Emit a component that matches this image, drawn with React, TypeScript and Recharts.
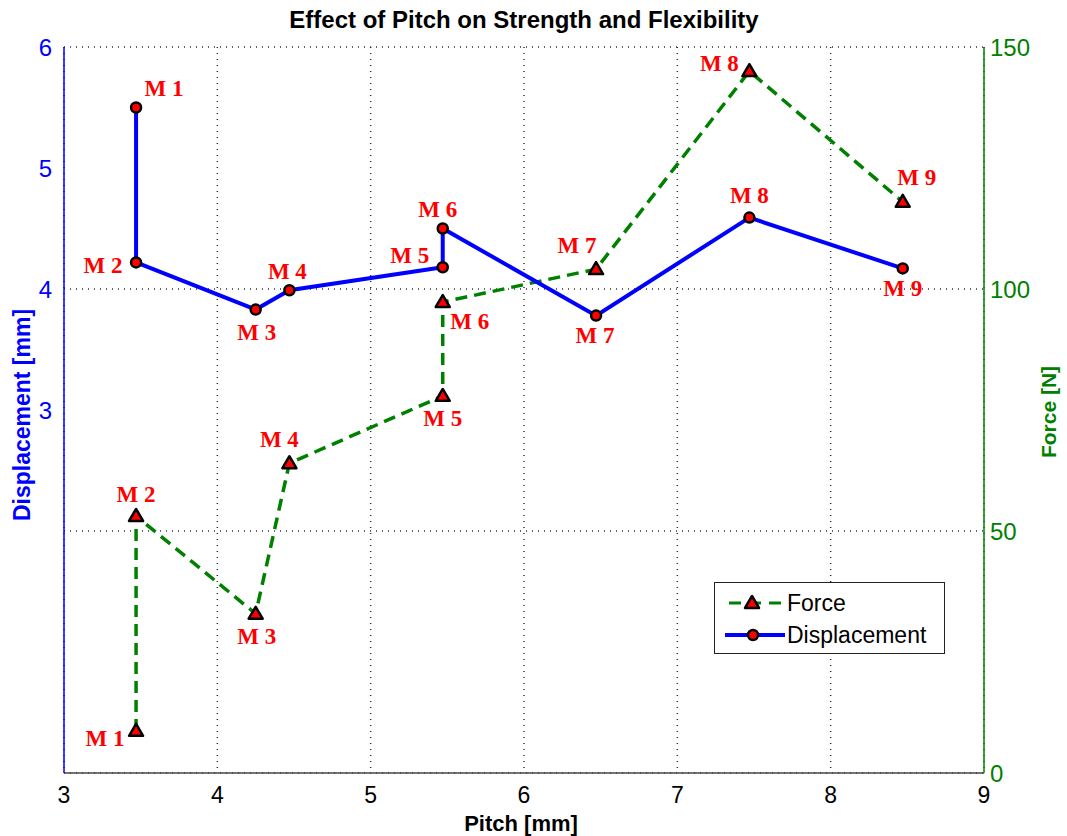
import React from "react";
import {
  ComposedChart,
  Line,
  XAxis,
  YAxis,
  CartesianGrid,
  LabelList,
} from "recharts";

const pointNames = ["M 1", "M 2", "M 3", "M 4", "M 5", "M 6", "M 7", "M 8", "M 9"];
const pitch = [3.47, 3.47, 4.25, 4.47, 5.47, 5.47, 6.47, 7.47, 8.47];
const displacement = [5.5, 4.22, 3.83, 3.99, 4.18, 4.5, 3.78, 4.59, 4.17];
const force = [8.7, 53.1, 32.9, 64.0, 77.9, 97.3, 104.1, 145.0, 118.0];

const pitchTicks = [3, 4, 5, 6, 7, 8, 9];
const displacementTicks = [3, 4, 5, 6];
const forceTicks = [0, 50, 100, 150];

// label nudges (px) so the tags sit where they do in the figure
const dispLabelShift = [
  [28, -19], [-33, 3], [1, 23], [-2, -19], [-33, -12],
  [-5, -19], [-1, 20], [0, -22], [0, 20],
];
const forceLabelShift = [
  [-31, 8], [0, -21], [1, 23], [-10, -24], [0, 23],
  [27, 19], [-19, -24], [-30, -8], [14, -24],
];

const BLUE = "#0000ff";
const GREEN = "#008000";
const RED = "#ff0000";

const data = pitch.map((p, i) => ({
  name: pointNames[i],
  pitch: p,
  displacement: displacement[i],
  force: force[i],
}));

const tagLabel = (shift: number[][]) => (props: any) => {
  const { x, y, index, value } = props;
  const [dx, dy] = shift[index] || [0, 0];
  return (
    <text
      x={x + dx}
      y={y + dy}
      textAnchor="middle"
      dominantBaseline="central"
      fill={RED}
      fontFamily="'Liberation Serif', serif"
      fontWeight="bold"
      fontSize={23}
    >
      {value}
    </text>
  );
};

const CircleDot = (props: any) => {
  const { cx, cy } = props;
  if (cx == null || cy == null) return null;
  return <circle cx={cx} cy={cy} r={5} fill={RED} stroke="#000" strokeWidth={2.5} />;
};

const TriangleDot = (props: any) => {
  const { cx, cy } = props;
  if (cx == null || cy == null) return null;
  const s = 7;
  return (
    <polygon
      points={`${cx},${cy - s} ${cx - s},${cy + s * 0.7} ${cx + s},${cy + s * 0.7}`}
      fill={RED}
      stroke="#000"
      strokeWidth={2.5}
      strokeLinejoin="round"
    />
  );
};

const font = "'Liberation Sans', Arial, sans-serif";

const LegendBox = () => (
  <div
    style={{
      position: "absolute",
      left: 714,
      top: 582,
      width: 231,
      height: 72,
      border: "1px solid #222",
      background: "#fff",
      fontFamily: font,
      fontSize: 23,
      color: "#000",
      boxSizing: "border-box",
    }}
  >
    <div style={{ display: "flex", alignItems: "center", height: 34, marginTop: 3 }}>
      <svg width={72} height={20}>
        <line x1={14} y1={10} x2={70} y2={10} stroke={GREEN} strokeWidth={3} strokeDasharray="12 8" />
        <TriangleDot cx={37} cy={10} />
      </svg>
      <span>Force</span>
    </div>
    <div style={{ display: "flex", alignItems: "center", height: 30 }}>
      <svg width={72} height={20}>
        <line x1={10} y1={10} x2={70} y2={10} stroke={BLUE} strokeWidth={4} />
        <CircleDot cx={38} cy={10} />
      </svg>
      <span>Displacement</span>
    </div>
  </div>
);

export default function App() {
  return (
    <div style={{ position: "absolute", left: 0, top: 0, width: 1067, height: 836, background: "#fff" }}>
      <div
        style={{
          position: "absolute",
          left: 0,
          width: 1048,
          top: 8,
          lineHeight: 1,
          textAlign: "center",
          fontFamily: font,
          fontWeight: "bold",
          fontSize: 24,
        }}
      >
        Effect of Pitch on Strength and Flexibility
      </div>
      <div
        style={{
          position: "absolute",
          left: 0,
          width: 1042,
          top: 813,
          lineHeight: 1,
          textAlign: "center",
          fontFamily: font,
          fontWeight: "bold",
          fontSize: 22,
        }}
      >
        Pitch [mm]
      </div>
      <div
        style={{
          position: "absolute",
          left: 22,
          top: 415,
          transform: "translate(-50%, -50%) rotate(-90deg)",
          whiteSpace: "nowrap",
          fontFamily: font,
          fontWeight: "bold",
          fontSize: 23,
          color: BLUE,
        }}
      >
        Displacement [mm]
      </div>
      <div
        style={{
          position: "absolute",
          left: 1049,
          top: 412,
          transform: "translate(-50%, -50%) rotate(-90deg)",
          whiteSpace: "nowrap",
          fontFamily: font,
          fontWeight: "bold",
          fontSize: 21,
          color: GREEN,
        }}
      >
        Force [N]
      </div>
      <ComposedChart
        width={1067}
        height={836}
        data={data}
        margin={{ top: 47, right: 23, left: 4, bottom: 23 }}
        style={{ fontFamily: font }}
      >
        <CartesianGrid
          yAxisId="force"
          stroke="#333"
          strokeDasharray="1 5"
          strokeWidth={1.5}
        />
        <XAxis
          dataKey="pitch"
          type="number"
          domain={[3, 9]}
          ticks={pitchTicks}
          allowDataOverflow
          height={40}
          tickSize={0}
          tickMargin={14}
          tickLine={false}
          axisLine={{ stroke: "#444", strokeWidth: 1.5 }}
          tick={{ fill: "#000", fontSize: 23 }}
        />
        <XAxis
          xAxisId="top"
          orientation="top"
          dataKey="pitch"
          type="number"
          domain={[3, 9]}
          height={0}
          tick={false}
          tickLine={false}
          axisLine={{ stroke: "#555", strokeWidth: 1.5 }}
        />
        <YAxis
          yAxisId="disp"
          orientation="left"
          domain={[0, 6]}
          ticks={displacementTicks}
          width={60}
          tickSize={0}
          tickMargin={12}
          tickLine={false}
          axisLine={{ stroke: BLUE, strokeWidth: 1.5 }}
          tick={{ fill: BLUE, fontSize: 24 }}
        />
        <YAxis
          yAxisId="force"
          orientation="right"
          domain={[0, 150]}
          ticks={forceTicks}
          width={60}
          tickSize={0}
          tickMargin={6}
          tickLine={false}
          axisLine={{ stroke: GREEN, strokeWidth: 1.5 }}
          tick={{ fill: GREEN, fontSize: 24 }}
        />
        <Line
          yAxisId="force"
          name="Force"
          dataKey="force"
          type="linear"
          stroke={GREEN}
          strokeWidth={3.5}
          strokeDasharray="12 7"
          dot={<TriangleDot />}
          activeDot={false}
          isAnimationActive={false}
        >
          <LabelList dataKey="name" content={tagLabel(forceLabelShift)} />
        </Line>
        <Line
          yAxisId="disp"
          name="Displacement"
          dataKey="displacement"
          type="linear"
          stroke={BLUE}
          strokeWidth={4}
          dot={<CircleDot />}
          activeDot={false}
          isAnimationActive={false}
        >
          <LabelList dataKey="name" content={tagLabel(dispLabelShift)} />
        </Line>
      </ComposedChart>
      <LegendBox />
    </div>
  );
}
